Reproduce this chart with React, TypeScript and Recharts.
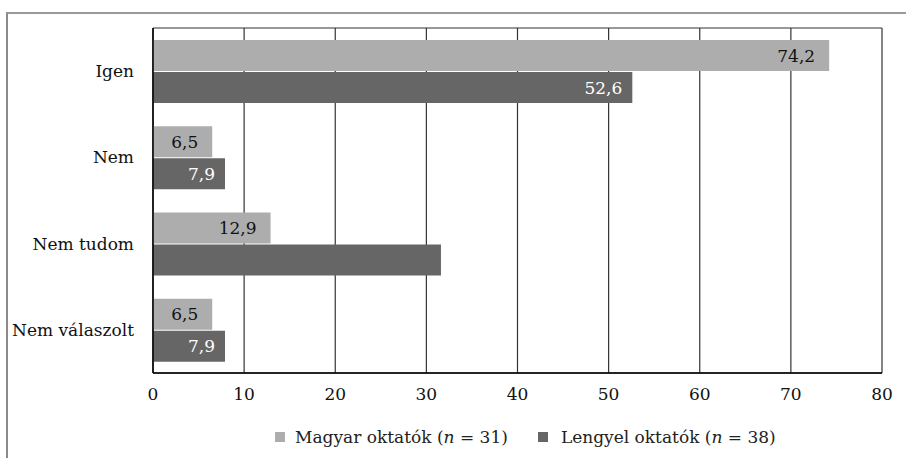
import { BarChart, Bar, CartesianGrid, XAxis, YAxis, Legend, LabelList } from 'recharts';

const valaszok = ['Igen', 'Nem', 'Nem tudom', 'Nem válaszolt'];
const magyar = [74.2, 6.5, 12.9, 6.5];
const lengyel = [52.6, 7.9, 31.6, 7.9];
const xTicks = [0, 10, 20, 30, 40, 50, 60, 70, 80];
// the reference leaves the 31,6 bar without a label
const lengyelCimke = [true, true, false, true];

const data = valaszok.map((v, i) => ({ valasz: v, magyar: magyar[i], lengyel: lengyel[i] }));

const FONT = 'DejaVu Serif';
const VILAGOS = '#adadad';
const SOTET = '#666666';

const fmt = (v: number) => v.toFixed(1).replace('.', ',');

const LengyelLabel = (props: any) => {
  const { x, y, width, height, value, index } = props;
  if (!lengyelCimke[index]) return null;
  return (
    <text x={x + width - 10} y={y + height / 2} dy={6} textAnchor="end" fill="#ffffff" fontSize={17} fontFamily={FONT}>
      {fmt(value)}
    </text>
  );
};

const LegendContent = () => (
  <div style={{ display: 'flex', alignItems: 'center', fontFamily: FONT, fontSize: 17, color: '#222', whiteSpace: 'nowrap' }}>
    <span style={{ width: 10, height: 10, background: VILAGOS, display: 'inline-block', marginRight: 10 }} />
    <span>Magyar oktatók (<i>n</i> = 31)</span>
    <span style={{ width: 10, height: 10, background: SOTET, display: 'inline-block', marginLeft: 30, marginRight: 13 }} />
    <span>Lengyel oktatók (<i>n</i> = 38)</span>
  </div>
);

const App = () => {
  return (
    <div style={{ position: 'absolute', left: 0, top: 0, width: 906, height: 458, background: '#fff', fontFamily: FONT }}>
      <div style={{ position: 'absolute', left: 6, top: 12, width: 920, height: 460, borderLeft: '2px solid #8a8a8a', borderTop: '2px solid #9a9a9a' }} />
      <BarChart
        width={906}
        height={458}
        data={data}
        layout="vertical"
        margin={{ top: 28, right: 24, left: 0, bottom: 0 }}
        barCategoryGap="14%"
        barGap={1}
        style={{ position: 'absolute', left: 0, top: 0, fontFamily: FONT }}
      >
        <CartesianGrid
          stroke="#333"
          strokeWidth={1.2}
          horizontalCoordinatesGenerator={({ offset }: any) => [offset.top, offset.top + offset.height]}
        />
        <XAxis
          type="number"
          domain={[0, 80]}
          ticks={xTicks}
          height={65}
          tickSize={0}
          tickMargin={15}
          axisLine={{ stroke: '#000', strokeWidth: 1.5 }}
          tick={{ fill: '#111', fontSize: 17, fontFamily: FONT }}
        />
        <YAxis
          type="category"
          dataKey="valasz"
          width={153}
          tickSize={0}
          tickMargin={19}
          axisLine={{ stroke: '#000', strokeWidth: 1.5 }}
          tick={{ fill: '#111', fontSize: 17, fontFamily: FONT }}
        />
        <Legend
          content={<LegendContent />}
          wrapperStyle={{ position: 'absolute', left: 275, top: 427, width: 'auto' }}
        />
        <Bar dataKey="magyar" fill={VILAGOS} isAnimationActive={false}>
          <LabelList dataKey="magyar" position="insideRight" offset={14} formatter={(v: any) => fmt(Number(v))} fill="#111" style={{ fontSize: 17, fontFamily: FONT }} />
        </Bar>
        <Bar dataKey="lengyel" fill={SOTET} isAnimationActive={false}>
          <LabelList dataKey="lengyel" content={<LengyelLabel />} />
        </Bar>
      </BarChart>
    </div>
  );
};

export default App;
